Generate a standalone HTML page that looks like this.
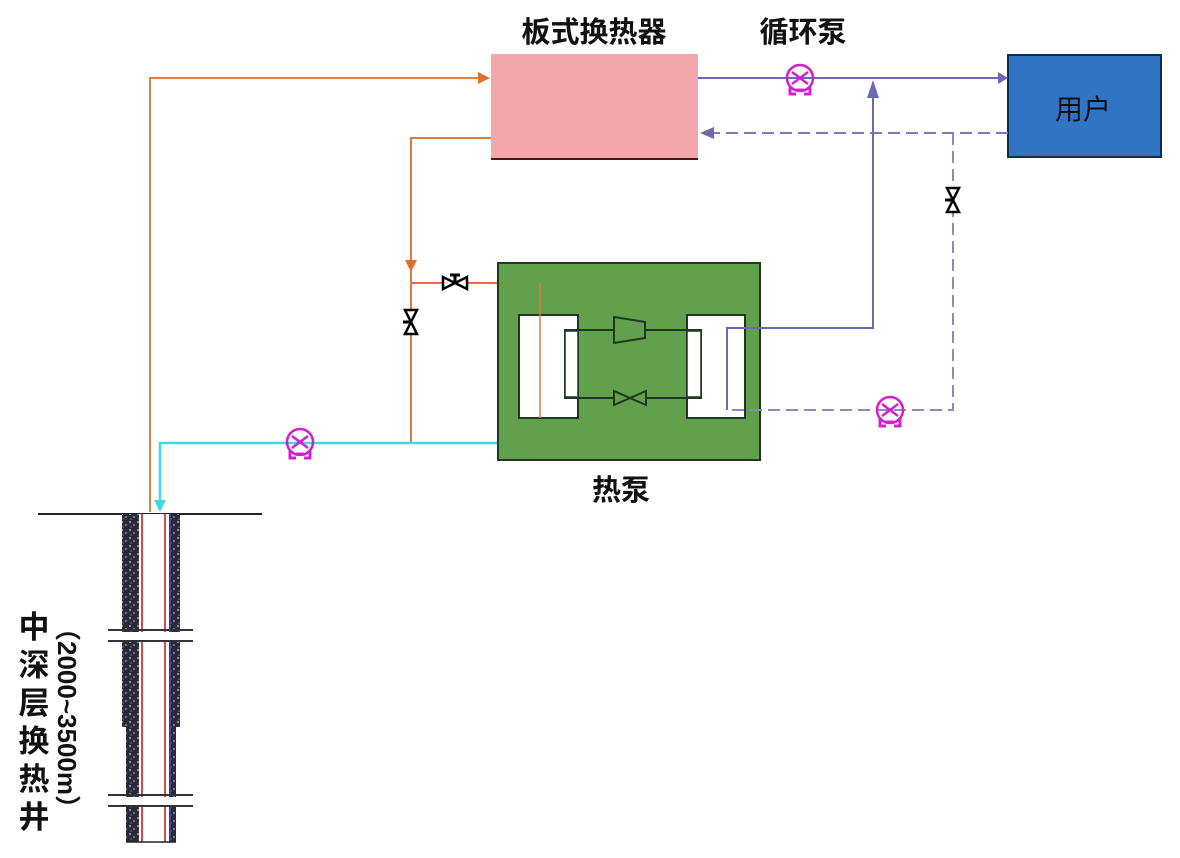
<!DOCTYPE html>
<html><head><meta charset="utf-8"><style>
html,body{margin:0;padding:0;background:#fff;}
svg{display:block;}
text{font-family:"Liberation Sans","Noto Sans CJK SC",sans-serif;font-weight:bold;fill:#111;}
</style></head><body>
<svg width="1180" height="858" viewBox="0 0 1180 858" xmlns="http://www.w3.org/2000/svg">
<defs>
<pattern id="sp" width="8" height="8" patternUnits="userSpaceOnUse">
<rect width="8" height="8" fill="#2a2a3a"/>
<circle cx="2" cy="2" r="1" fill="#aab"/><circle cx="6" cy="5" r="0.8" fill="#ccd"/><circle cx="3" cy="7" r="0.6" fill="#99a"/>
</pattern>
<g id="pump">
<circle cx="0" cy="0" r="13" fill="none" stroke="#d020d0" stroke-width="2.5"/>
<path d="M-8,-6 L8,6 M-8,6 L8,-6 M-3,0 L3,0" stroke="#d020d0" stroke-width="2.5"/>
<path d="M-10,9 L-10,16 L-4,16 M10,9 L10,16 L4,16 M-4,12 L4,12" stroke="#d020d0" stroke-width="3" fill="none"/>
</g>
<g id="valvev">
<path d="M-6,-12 L6,-12 L-6,12 L6,12 Z" fill="#fff" stroke="#000" stroke-width="2.5"/>
<path d="M-8,0 L0,0" stroke="#000" stroke-width="3"/>
</g>
<g id="valveh">
<path d="M-12,-6 L-12,6 L12,-6 L12,6 Z" fill="#fff" stroke="#000" stroke-width="2.5"/>
<path d="M0,0 L0,-8 M-5,-8 L5,-8" stroke="#000" stroke-width="3"/>
</g>
</defs>

<text x="594" y="42" font-size="29" text-anchor="middle">板式换热器</text>
<text x="803" y="42" font-size="29" text-anchor="middle">循环泵</text>
<text x="621" y="500" font-size="29" text-anchor="middle">热泵</text>

<rect x="491" y="54" width="207" height="106" fill="#f4a7aa"/>
<line x1="491" y1="159" x2="698" y2="159" stroke="#3a1a1a" stroke-width="2"/>

<rect x="1008" y="55" width="153" height="102" fill="#2f75c4" stroke="#0d2d55" stroke-width="2"/>
<text x="1083" y="119" font-size="28" text-anchor="middle" style="font-weight:normal">用户</text>

<path d="M150,512 L150,78 L482,78" fill="none" stroke="#e08040" stroke-width="2"/>
<path d="M478,72 L490,78 L478,84 Z" fill="#e07030"/>
<path d="M491,138 L411,138 L411,443" fill="none" stroke="#e07a3a" stroke-width="2"/>
<path d="M405,260 L411,272 L417,260 Z" fill="#e07030"/>
<path d="M411,283 L540,283 L540,440" fill="none" stroke="#e86a4a" stroke-width="2"/>
<use href="#valveh" x="455" y="283"/>
<use href="#valvev" x="411" y="322"/>

<path d="M542,420 L542,443 L160,443 L160,505" fill="none" stroke="#40d8e8" stroke-width="2.5"/>
<path d="M154,500 L160,512 L166,500 Z" fill="#40d8e8"/>
<use href="#pump" x="300" y="442"/>

<rect x="498" y="263" width="262" height="197" fill="#63a04e" stroke="#1e3a1e" stroke-width="2"/>
<rect x="519" y="315" width="59" height="103" fill="#fff" stroke="#1e3a1e" stroke-width="2"/>
<rect x="687" y="315" width="58" height="103" fill="#fff" stroke="#1e3a1e" stroke-width="2"/>
<rect x="565" y="330" width="136" height="68" fill="none" stroke="#1e3a1e" stroke-width="2"/>
<rect x="565" y="331" width="13" height="66" fill="#fff" stroke="#1e3a1e" stroke-width="1.5"/>
<rect x="687" y="331" width="14" height="66" fill="#fff" stroke="#1e3a1e" stroke-width="1.5"/>
<path d="M614,317 L645,322 L645,338 L614,343 Z" fill="#63a04e" stroke="#1e3a1e" stroke-width="2"/>
<path d="M614,391 L614,405 L646,391 L646,405 Z" fill="#63a04e" stroke="#1e3a1e" stroke-width="2"/>
<line x1="540" y1="283" x2="540" y2="418" stroke="#e07a3a" stroke-width="1.5"/>

<path d="M698,78 L1000,78" stroke="#6a6ab0" stroke-width="2"/>
<path d="M998,72 L1008,78 L998,84 Z" fill="#6a6ab0"/>
<use href="#pump" x="800" y="78"/>
<path d="M873,86 L873,328 L727,328 L727,410" fill="none" stroke="#6a6ab0" stroke-width="2"/>
<path d="M867,98 L873,80 L879,98 Z" fill="#6a6ab0"/>
<path d="M1008,133 L712,133" stroke="#7a7ab8" stroke-width="2" stroke-dasharray="12,6"/>
<path d="M714,127 L700,133 L714,139 Z" fill="#6a6ab0"/>
<path d="M953,133 L953,410 L728,410" fill="none" stroke="#8a8ac0" stroke-width="2" stroke-dasharray="12,6"/>
<use href="#valvev" x="953" y="200"/>
<use href="#pump" x="890" y="410"/>

<line x1="38" y1="514" x2="262" y2="514" stroke="#222" stroke-width="2"/>

<rect x="122" y="514" width="58" height="213" fill="url(#sp)"/>
<rect x="126" y="727" width="50" height="115" fill="url(#sp)"/>
<rect x="139" y="514" width="30" height="328" fill="#fff"/>
<line x1="142" y1="514" x2="142" y2="842" stroke="#e04848" stroke-width="2"/>
<line x1="165" y1="514" x2="165" y2="842" stroke="#e04848" stroke-width="2"/>
<line x1="170" y1="514" x2="170" y2="842" stroke="#4040a0" stroke-width="1.5"/>
<line x1="126" y1="842" x2="176" y2="842" stroke="#222" stroke-width="1.5"/>
<rect x="105" y="632" width="95" height="9" fill="#fff"/>
<line x1="108" y1="630" x2="193" y2="630" stroke="#333" stroke-width="2"/>
<line x1="108" y1="641" x2="193" y2="641" stroke="#333" stroke-width="2"/>
<rect x="105" y="797" width="95" height="9" fill="#fff"/>
<line x1="108" y1="795" x2="193" y2="795" stroke="#333" stroke-width="2"/>
<line x1="108" y1="806" x2="193" y2="806" stroke="#333" stroke-width="2"/>

<g font-size="31">
<text x="34" y="638" text-anchor="middle">中</text>
<text x="34" y="676" text-anchor="middle">深</text>
<text x="34" y="714" text-anchor="middle">层</text>
<text x="34" y="752" text-anchor="middle">换</text>
<text x="34" y="790" text-anchor="middle">热</text>
<text x="34" y="828" text-anchor="middle">井</text>
</g>
<text transform="translate(58,718) rotate(90)" font-size="26" text-anchor="middle">（2000~3500m）</text>
</svg>
</body></html>
